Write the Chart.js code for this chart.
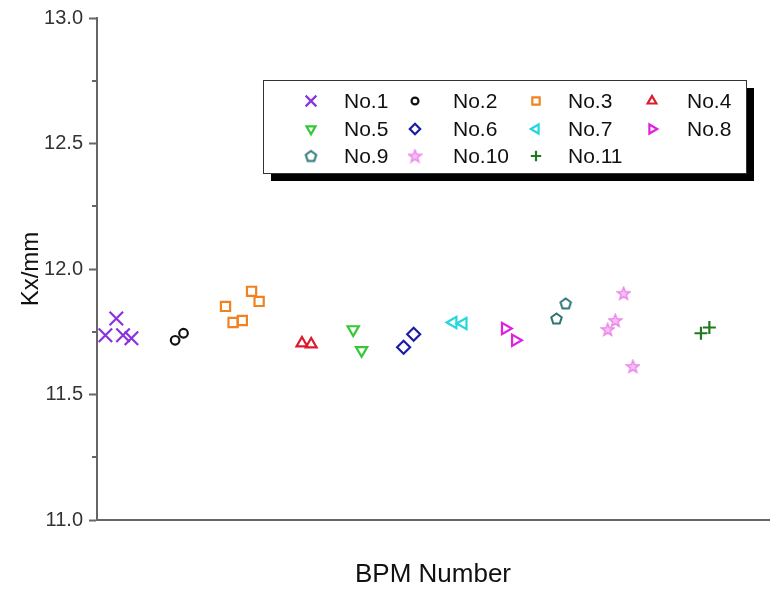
<!DOCTYPE html>
<html>
<head>
<meta charset="utf-8">
<script src="https://cdn.jsdelivr.net/npm/chart.js@4.4.1/dist/chart.umd.min.js"></script>
<style>
    html, body { margin: 0; padding: 0; background: #fff; }
    #wrap { width: 770px; height: 593px; }
</style>
</head>
<body>
<div id="wrap"><canvas id="kxChart" width="770" height="593"></canvas></div>
<script>
// BPM labels and measured Kx values (x = BPM position index along the ring)
const bpmNames = ["No.1", "No.2", "No.3", "No.4", "No.5", "No.6", "No.7", "No.8", "No.9", "No.10", "No.11"];
const bpmX = [
    [1.0, 2.3, 3.1, 4.1],
    [9.3, 10.3],
    [15.3, 16.2, 17.3, 18.4, 19.3],
    [24.4, 25.5],
    [30.5, 31.5],
    [36.5, 37.7],
    [42.4, 43.6],
    [48.6, 49.8],
    [54.7, 55.8],
    [60.8, 61.7, 62.7, 63.8],
    [71.9, 72.9]
];
const kxValues = [
    [11.736, 11.803, 11.736, 11.724],
    [11.716, 11.744],
    [11.851, 11.787, 11.795, 11.911, 11.871],
    [11.704, 11.700],
    [11.759, 11.676],
    [11.688, 11.740],
    [11.787, 11.783],
    [11.763, 11.716],
    [11.803, 11.863],
    [11.759, 11.795, 11.903, 11.612],
    [11.744, 11.767]
];
const yTicks = [11.0, 11.5, 12.0, 12.5, 13.0];
const yMinorTicks = [11.25, 11.75, 12.25, 12.75];

const colors = ["#8a33dd", "#111111", "#f0831f", "#dc1c2a", "#34c934", "#1c1ca8",
    "#25d6df", "#e020e0", "#2a7474", "#ec86ec", "#1f7a1f"];

function makeShape(kind, color, size) {
    const c = document.createElement("canvas");
    c.width = size; c.height = size;
    const g = c.getContext("2d");
    const cx = size / 2, cy = size / 2, r = size / 2 - 2;
    g.beginPath();
    if (kind === "pentagon") {
        for (let i = 0; i < 5; i++) {
            const a = -Math.PI / 2 + i * 2 * Math.PI / 5;
            g.lineTo(cx + r * Math.cos(a), cy + r * Math.sin(a) + 0.5);
        }
        g.closePath();
        g.lineWidth = 2;
        g.strokeStyle = color;
        g.stroke();
    } else {
        for (let i = 0; i < 10; i++) {
            const a = -Math.PI / 2 + i * Math.PI / 5;
            const rr = i % 2 === 0 ? r + 1 : r * 0.5;
            g.lineTo(cx + rr * Math.cos(a), cy + rr * Math.sin(a) + 0.5);
        }
        g.closePath();
        g.fillStyle = "#f6c4f4";
        g.fill();
        g.lineWidth = 1.5;
        g.strokeStyle = color;
        g.stroke();
    }
    return c;
}

const styles = [
    { pointStyle: "crossRot", radius: 9.5, rotation: 0 },
    { pointStyle: "circle", radius: 4.3, rotation: 0 },
    { pointStyle: "rect", radius: 6.5, rotation: 0 },
    { pointStyle: "triangle", radius: 6.3, rotation: 0 },
    { pointStyle: "triangle", radius: 6.5, rotation: 180 },
    { pointStyle: "rectRot", radius: 6.5, rotation: 0 },
    { pointStyle: "triangle", radius: 6.5, rotation: 270 },
    { pointStyle: "triangle", radius: 6.5, rotation: 90 },
    { pointStyle: makeShape("pentagon", colors[8], 15), radius: 7, rotation: 0 },
    { pointStyle: makeShape("star", colors[9], 15), radius: 7, rotation: 0 },
    { pointStyle: "cross", radius: 6.5, rotation: 0 }
];

const datasets = bpmNames.map((name, i) => ({
    label: name,
    data: bpmX[i].map((x, j) => ({ x: x, y: kxValues[i][j] })),
    pointStyle: styles[i].pointStyle,
    pointRadius: styles[i].radius,
    pointHoverRadius: styles[i].radius,
    pointRotation: styles[i].rotation,
    pointBorderWidth: 2.2,
    borderColor: colors[i],
    backgroundColor: "rgba(0,0,0,0)",
    showLine: false
}));

// minor ticks on the y axis
const minorTicks = {
    id: "minorTicks",
    afterDraw(chart) {
        const { ctx, scales: { y } } = chart;
        ctx.save();
        ctx.strokeStyle = "#666";
        ctx.lineWidth = 2;
        yMinorTicks.forEach(v => {
            const py = Math.round(y.getPixelForValue(v));
            ctx.beginPath();
            ctx.moveTo(y.right - 5, py);
            ctx.lineTo(y.right, py);
            ctx.stroke();
        });
        ctx.restore();
    }
};

// legend box with shadow, 4 columns
const boxLegend = {
    id: "boxLegend",
    afterDraw(chart) {
        const ctx = chart.ctx;
        const bx = 263, by = 80, bw = 483, bh = 93;
        const markerX = [311, 415, 536, 652];
        const textX = [344, 453, 568, 687];
        const rowY = [101, 129, 156];
        ctx.save();
        ctx.fillStyle = "#000";
        ctx.fillRect(bx + 8, by + 8, bw, bh);
        ctx.fillStyle = "#fff";
        ctx.fillRect(bx, by, bw, bh);
        ctx.strokeStyle = "#333";
        ctx.lineWidth = 1;
        ctx.strokeRect(bx + 0.5, by + 0.5, bw, bh);
        ctx.font = "21px 'Liberation Sans', Arial, sans-serif";
        ctx.textBaseline = "middle";
        ctx.textAlign = "left";
        chart.data.datasets.forEach((ds, i) => {
            const col = i % 4, row = Math.floor(i / 4);
            const mx = markerX[col], my = rowY[row];
            ctx.strokeStyle = ds.borderColor;
            ctx.fillStyle = "rgba(0,0,0,0)";
            ctx.lineWidth = 2.2;
            Chart.helpers.drawPoint(ctx, {
                pointStyle: ds.pointStyle,
                rotation: ds.pointRotation,
                radius: ds.pointRadius * 0.8,
                borderWidth: 2.2
            }, mx, my);
            ctx.fillStyle = "#111";
            ctx.fillText(ds.label, textX[col], my + 1);
        });
        ctx.restore();
    }
};

new Chart(document.getElementById("kxChart"), {
    type: "scatter",
    data: { datasets: datasets },
    options: {
        responsive: false,
        animation: false,
        layout: { autoPadding: false, padding: { top: 17, right: 1, left: 0, bottom: 0 } },
        plugins: {
            legend: { display: false },
            tooltip: { enabled: false }
        },
        scales: {
            x: {
                type: "linear",
                min: 0,
                max: 80,
                afterFit: s => { s.height = 73; },
                grid: { display: false },
                border: { display: true, color: "#666", width: 2 },
                ticks: { display: false },
                title: {
                    display: true,
                    text: "BPM Number",
                    color: "#111",
                    font: { size: 26, family: "'Liberation Sans', Arial, sans-serif" },
                    padding: { top: 0, bottom: 3 }
                }
            },
            y: {
                min: 11,
                max: 13,
                afterFit: s => { s.width = 97; },
                afterBuildTicks: s => { s.ticks = yTicks.map(v => ({ value: v })); },
                grid: { drawOnChartArea: false, drawTicks: true, tickLength: 8, color: "#666", tickWidth: 2 },
                border: { display: true, color: "#666", width: 2 },
                ticks: {
                    color: "#333",
                    padding: 6,
                    font: { size: 20, family: "'Liberation Sans', Arial, sans-serif" },
                    callback: v => v.toFixed(1)
                },
                title: {
                    display: true,
                    text: "Kx/mm",
                    color: "#111",
                    font: { size: 24, family: "'Liberation Sans', Arial, sans-serif" },
                    padding: { top: 17, bottom: 0 }
                }
            }
        }
    },
    plugins: [minorTicks, boxLegend]
});
</script>
</body>
</html>
